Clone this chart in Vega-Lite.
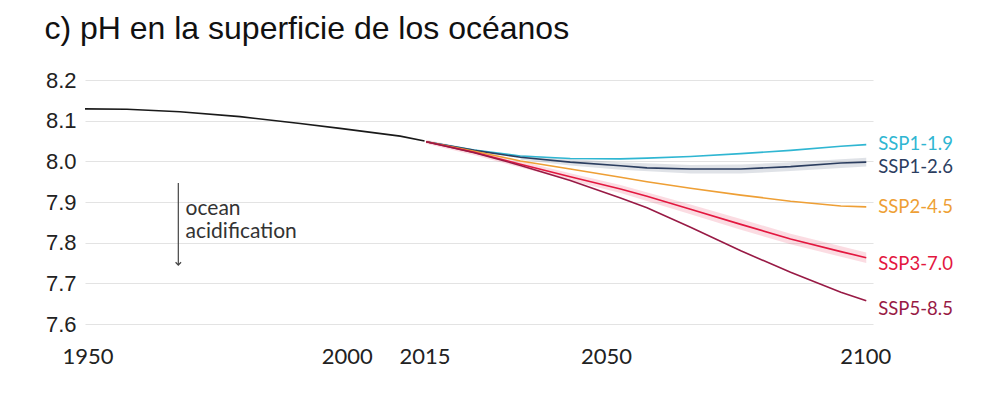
{
  "$schema": "https://vega.github.io/schema/vega-lite/v6.json",
  "autosize": "none",
  "width": 788,
  "height": 244,
  "padding": {"left": 85, "top": 80, "right": 109, "bottom": 87},
  "background": "white",
  "title": {
    "text": "c) pH en la superficie de los océanos",
    "anchor": "start",
    "font": "Liberation Sans",
    "fontSize": 32,
    "fontWeight": "normal",
    "color": "#111111",
    "dx": -1,
    "offset": 23
  },
  "config": {
    "view": {"stroke": null},
    "axis": {"domain": false, "ticks": false}
  },
  "datasets": {
    "lines": [
      {"scenario": "Historical", "year": 1949.5, "ph": 8.129},
      {"scenario": "Historical", "year": 1957.6, "ph": 8.128},
      {"scenario": "Historical", "year": 1967.8, "ph": 8.122},
      {"scenario": "Historical", "year": 1979.4, "ph": 8.110},
      {"scenario": "Historical", "year": 1991.0, "ph": 8.093},
      {"scenario": "Historical", "year": 1998.7, "ph": 8.081},
      {"scenario": "Historical", "year": 2010.3, "ph": 8.062},
      {"scenario": "Historical", "year": 2015.0, "ph": 8.050},
      {"scenario": "SSP1-1.9", "year": 2015.3, "ph": 8.048},
      {"scenario": "SSP1-1.9", "year": 2024.6, "ph": 8.028},
      {"scenario": "SSP1-1.9", "year": 2033.5, "ph": 8.013},
      {"scenario": "SSP1-1.9", "year": 2043.1, "ph": 8.007},
      {"scenario": "SSP1-1.9", "year": 2052.8, "ph": 8.006},
      {"scenario": "SSP1-1.9", "year": 2057.9, "ph": 8.008},
      {"scenario": "SSP1-1.9", "year": 2066.3, "ph": 8.012},
      {"scenario": "SSP1-1.9", "year": 2076.0, "ph": 8.019},
      {"scenario": "SSP1-1.9", "year": 2085.6, "ph": 8.027},
      {"scenario": "SSP1-1.9", "year": 2095.3, "ph": 8.037},
      {"scenario": "SSP1-1.9", "year": 2100.2, "ph": 8.041},
      {"scenario": "SSP1-2.6", "year": 2015.3, "ph": 8.048},
      {"scenario": "SSP1-2.6", "year": 2024.6, "ph": 8.027},
      {"scenario": "SSP1-2.6", "year": 2033.5, "ph": 8.010},
      {"scenario": "SSP1-2.6", "year": 2043.1, "ph": 7.998},
      {"scenario": "SSP1-2.6", "year": 2052.8, "ph": 7.989},
      {"scenario": "SSP1-2.6", "year": 2057.9, "ph": 7.984},
      {"scenario": "SSP1-2.6", "year": 2066.3, "ph": 7.981},
      {"scenario": "SSP1-2.6", "year": 2076.0, "ph": 7.981},
      {"scenario": "SSP1-2.6", "year": 2085.6, "ph": 7.987},
      {"scenario": "SSP1-2.6", "year": 2095.3, "ph": 7.996},
      {"scenario": "SSP1-2.6", "year": 2100.2, "ph": 7.998},
      {"scenario": "SSP2-4.5", "year": 2015.3, "ph": 8.048},
      {"scenario": "SSP2-4.5", "year": 2024.6, "ph": 8.025},
      {"scenario": "SSP2-4.5", "year": 2033.5, "ph": 8.001},
      {"scenario": "SSP2-4.5", "year": 2043.1, "ph": 7.981},
      {"scenario": "SSP2-4.5", "year": 2052.8, "ph": 7.961},
      {"scenario": "SSP2-4.5", "year": 2057.9, "ph": 7.950},
      {"scenario": "SSP2-4.5", "year": 2066.3, "ph": 7.934},
      {"scenario": "SSP2-4.5", "year": 2076.0, "ph": 7.917},
      {"scenario": "SSP2-4.5", "year": 2085.6, "ph": 7.902},
      {"scenario": "SSP2-4.5", "year": 2095.3, "ph": 7.890},
      {"scenario": "SSP2-4.5", "year": 2100.2, "ph": 7.888},
      {"scenario": "SSP3-7.0", "year": 2015.3, "ph": 8.048},
      {"scenario": "SSP3-7.0", "year": 2024.6, "ph": 8.022},
      {"scenario": "SSP3-7.0", "year": 2033.5, "ph": 7.993},
      {"scenario": "SSP3-7.0", "year": 2043.1, "ph": 7.962},
      {"scenario": "SSP3-7.0", "year": 2052.8, "ph": 7.932},
      {"scenario": "SSP3-7.0", "year": 2057.9, "ph": 7.914},
      {"scenario": "SSP3-7.0", "year": 2066.3, "ph": 7.882},
      {"scenario": "SSP3-7.0", "year": 2076.0, "ph": 7.845},
      {"scenario": "SSP3-7.0", "year": 2085.6, "ph": 7.809},
      {"scenario": "SSP3-7.0", "year": 2095.3, "ph": 7.778},
      {"scenario": "SSP3-7.0", "year": 2100.2, "ph": 7.763},
      {"scenario": "SSP5-8.5", "year": 2015.3, "ph": 8.048},
      {"scenario": "SSP5-8.5", "year": 2024.6, "ph": 8.021},
      {"scenario": "SSP5-8.5", "year": 2033.5, "ph": 7.990},
      {"scenario": "SSP5-8.5", "year": 2043.1, "ph": 7.953},
      {"scenario": "SSP5-8.5", "year": 2052.8, "ph": 7.910},
      {"scenario": "SSP5-8.5", "year": 2057.9, "ph": 7.886},
      {"scenario": "SSP5-8.5", "year": 2066.3, "ph": 7.838},
      {"scenario": "SSP5-8.5", "year": 2076.0, "ph": 7.780},
      {"scenario": "SSP5-8.5", "year": 2085.6, "ph": 7.727},
      {"scenario": "SSP5-8.5", "year": 2095.3, "ph": 7.678},
      {"scenario": "SSP5-8.5", "year": 2100.2, "ph": 7.657}
    ],
    "bands": [
      {"scenario": "SSP1-2.6", "year": 2033.5, "lo": 8.004, "hi": 8.016},
      {"scenario": "SSP1-2.6", "year": 2043.1, "lo": 7.990, "hi": 8.006},
      {"scenario": "SSP1-2.6", "year": 2052.8, "lo": 7.979, "hi": 7.998},
      {"scenario": "SSP1-2.6", "year": 2066.3, "lo": 7.970, "hi": 7.991},
      {"scenario": "SSP1-2.6", "year": 2076.0, "lo": 7.970, "hi": 7.992},
      {"scenario": "SSP1-2.6", "year": 2085.6, "lo": 7.976, "hi": 7.998},
      {"scenario": "SSP1-2.6", "year": 2100.2, "lo": 7.987, "hi": 8.009},
      {"scenario": "SSP3-7.0", "year": 2015.3, "lo": 8.043, "hi": 8.053},
      {"scenario": "SSP3-7.0", "year": 2024.6, "lo": 8.015, "hi": 8.029},
      {"scenario": "SSP3-7.0", "year": 2033.5, "lo": 7.985, "hi": 8.001},
      {"scenario": "SSP3-7.0", "year": 2043.1, "lo": 7.953, "hi": 7.971},
      {"scenario": "SSP3-7.0", "year": 2052.8, "lo": 7.922, "hi": 7.942},
      {"scenario": "SSP3-7.0", "year": 2066.3, "lo": 7.870, "hi": 7.894},
      {"scenario": "SSP3-7.0", "year": 2076.0, "lo": 7.832, "hi": 7.858},
      {"scenario": "SSP3-7.0", "year": 2085.6, "lo": 7.796, "hi": 7.822},
      {"scenario": "SSP3-7.0", "year": 2100.2, "lo": 7.750, "hi": 7.776}
    ],
    "arrow": [
      {"year": 1967.5, "top": 7.947, "bottom": 7.745}
    ],
    "note": [
      {"year": 1968.9, "ph": 7.882, "text": "ocean"},
      {"year": 1968.9, "ph": 7.826, "text": "acidification"}
    ]
  },
  "encoding": {
    "x": {
      "field": "year",
      "type": "quantitative",
      "scale": {"domain": [1949.5, 2101.5], "nice": false, "zero": false},
      "axis": {
        "title": null,
        "values": [1950, 2000, 2015, 2050, 2100],
        "format": "d",
        "grid": false,
        "labelFont": "Lato",
        "labelFontSize": 22,
        "labelColor": "#222222",
        "labelPadding": 22
      }
    }
  },
  "layer": [
    {
      "data": {"name": "lines"},
      "mark": {"type": "rule", "opacity": 0},
      "encoding": {
        "y": {
          "field": "ph",
          "type": "quantitative",
          "scale": {"domain": [7.6, 8.2], "nice": false, "zero": false},
          "axis": {
            "title": null,
            "values": [7.6, 7.7, 7.8, 7.9, 8.0, 8.1, 8.2],
            "format": ".1f",
            "grid": true,
            "gridColor": "#e3e3e3",
            "gridWidth": 1.2,
            "labelFont": "Liberation Sans",
            "labelFontSize": 22,
            "labelColor": "#222222",
            "labelPadding": 9
          }
        }
      }
    },
    {
      "data": {"name": "bands"},
      "mark": {"type": "area", "opacity": 0.15},
      "encoding": {
        "y": {"field": "lo", "type": "quantitative"},
        "y2": {"field": "hi"},
        "color": {"field": "scenario", "type": "nominal", "legend": null,
          "scale": {
            "domain": ["Historical", "SSP1-1.9", "SSP1-2.6", "SSP2-4.5", "SSP3-7.0", "SSP5-8.5"],
            "range": ["#1a1a1a", "#2fb6d2", "#2b3d5f", "#ee9f35", "#e3173f", "#981a45"]
          }
        },
        "detail": {"field": "scenario"}
      }
    },
    {
      "data": {"name": "lines"},
      "mark": {"type": "line", "strokeWidth": 1.6},
      "encoding": {
        "y": {"field": "ph", "type": "quantitative"},
        "color": {"field": "scenario", "type": "nominal", "legend": null},
        "order": {"field": "year"}
      }
    },
    {
      "data": {"name": "lines"},
      "transform": [{"filter": "datum.year > 2100 && datum.scenario == 'SSP1-1.9'"}],
      "mark": {"type": "text", "align": "left", "baseline": "middle", "dx": 12, "dy": -1, "font": "Lato", "fontSize": 18.5},
      "encoding": {
        "y": {"field": "ph", "type": "quantitative"},
        "text": {"field": "scenario"},
        "color": {"field": "scenario", "type": "nominal", "legend": null}
      }
    },
    {
      "data": {"name": "lines"},
      "transform": [{"filter": "datum.year > 2100 && datum.scenario == 'SSP2-4.5'"}],
      "mark": {"type": "text", "align": "left", "baseline": "middle", "dx": 12, "dy": 0, "font": "Lato", "fontSize": 18.5},
      "encoding": {
        "y": {"field": "ph", "type": "quantitative"},
        "text": {"field": "scenario"},
        "color": {"field": "scenario", "type": "nominal", "legend": null}
      }
    },
    {
      "data": {"name": "lines"},
      "transform": [{"filter": "datum.year > 2100 && datum.scenario == 'SSP1-2.6'"}],
      "mark": {"type": "text", "align": "left", "baseline": "middle", "dx": 12, "dy": 5, "font": "Lato", "fontSize": 18.5},
      "encoding": {
        "y": {"field": "ph", "type": "quantitative"},
        "text": {"field": "scenario"},
        "color": {"field": "scenario", "type": "nominal", "legend": null}
      }
    },
    {
      "data": {"name": "lines"},
      "transform": [{"filter": "datum.year > 2100 && datum.scenario == 'SSP3-7.0'"}],
      "mark": {"type": "text", "align": "left", "baseline": "middle", "dx": 12, "dy": 6, "font": "Lato", "fontSize": 18.5},
      "encoding": {
        "y": {"field": "ph", "type": "quantitative"},
        "text": {"field": "scenario"},
        "color": {"field": "scenario", "type": "nominal", "legend": null}
      }
    },
    {
      "data": {"name": "lines"},
      "transform": [{"filter": "datum.year > 2100 && datum.scenario == 'SSP5-8.5'"}],
      "mark": {"type": "text", "align": "left", "baseline": "middle", "dx": 12, "dy": 8, "font": "Lato", "fontSize": 18.5},
      "encoding": {
        "y": {"field": "ph", "type": "quantitative"},
        "text": {"field": "scenario"},
        "color": {"field": "scenario", "type": "nominal", "legend": null}
      }
    },
    {
      "data": {"name": "arrow"},
      "mark": {"type": "rule", "color": "#444444", "strokeWidth": 1.2},
      "encoding": {
        "y": {"field": "top", "type": "quantitative"},
        "y2": {"field": "bottom"}
      }
    },
    {
      "data": {"name": "arrow"},
      "mark": {"type": "point", "shape": "M-1,-1L0,0L1,-1", "filled": false, "stroke": "#444444", "strokeWidth": 1.2, "size": 30, "opacity": 1},
      "encoding": {
        "y": {"field": "bottom", "type": "quantitative"}
      }
    },
    {
      "data": {"name": "note"},
      "mark": {"type": "text", "align": "left", "baseline": "middle", "font": "Lato", "fontSize": 21, "color": "#333333"},
      "encoding": {
        "y": {"field": "ph", "type": "quantitative"},
        "text": {"field": "text"}
      }
    }
  ]
}
